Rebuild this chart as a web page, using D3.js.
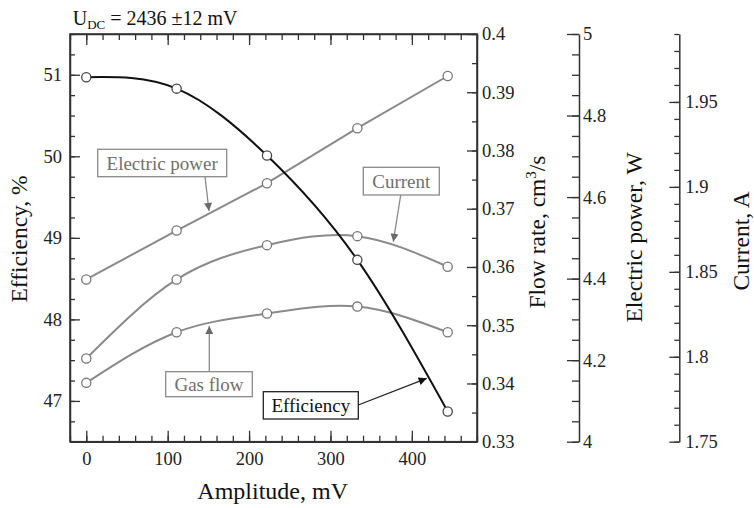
<!DOCTYPE html>
<html>
<head>
<meta charset="utf-8">
<script src="https://cdn.jsdelivr.net/npm/d3@7"></script>
<style>
  body { margin: 0; background: #fff; }
  svg text { font-family: "Liberation Serif", "Times New Roman", Times, "DejaVu Serif", serif !important; }
</style>
</head>
<body>
<svg id="chart" width="754" height="508"></svg>
<script>
// ---- data ----
const amplitude = [0, 111, 222, 333, 444];             // mV
const efficiency = [50.97, 50.83, 50.01, 48.73, 46.87]; // %
const flowRate = [0.3401, 0.3488, 0.3520, 0.3532, 0.3488]; // cm3/s
const electricPower = [4.398, 4.518, 4.634, 4.769, 4.897]; // W
const current = [1.799, 1.8455, 1.8657, 1.871, 1.853];     // A

const xTicks = [0, 100, 200, 300, 400];
const effTicks = [47, 48, 49, 50, 51];
const flowTicks = [0.33, 0.34, 0.35, 0.36, 0.37, 0.38, 0.39, 0.4];
const powerTicks = [4, 4.2, 4.4, 4.6, 4.8, 5];
const currentTicks = [1.75, 1.8, 1.85, 1.9, 1.95];

// ---- layout ----
const L = 70, R = 477, T = 34, B = 441.7;
const axP = 579, axC = 679.3;
const gray = "#8a8a8a", grayText = "#707070";
const tickFont = 18.5;

const svg = d3.select("#chart");

const x = d3.scaleLinear().domain([-20, 480]).range([L, R]);
const yE = d3.scaleLinear().domain([46.5, 51.5]).range([B, T]);
const yF = d3.scaleLinear().domain([0.33, 0.40]).range([B, T]);
const yP = d3.scaleLinear().domain([4, 5]).range([B, T]);
const yC = d3.scaleLinear().domain([1.75, 1.99]).range([B, T]);

function rangeStep(a, b, s) { const r = []; const n = Math.round((b - a) / s); for (let i = 0; i <= n; i++) r.push(+(a + i * s).toFixed(6)); return r; }

function styleAxis(g, color) {
  g.attr("font-family", null);
  g.selectAll("path.domain").attr("stroke", color || "#333").attr("stroke-width", 1.5);
  g.selectAll(".tick line").attr("stroke", color || "#333").attr("stroke-width", 1.3);
  g.selectAll(".tick text").attr("font-size", tickFont).attr("fill", "#222");
}

function addAxis(axisFn, scale, majors, minors, tx, ty, majorLen, minorLen, pad, fmt) {
  const gMin = svg.append("g").attr("transform", `translate(${tx},${ty})`)
    .call(axisFn(scale).tickValues(minors).tickSizeInner(minorLen).tickSizeOuter(0).tickFormat(""));
  styleAxis(gMin);
  gMin.select("path.domain").remove();
  const gMaj = svg.append("g").attr("transform", `translate(${tx},${ty})`)
    .call(axisFn(scale).tickValues(majors).tickSizeInner(majorLen).tickSizeOuter(0).tickPadding(pad)
      .tickFormat(fmt || (d => d)));
  styleAxis(gMaj);
  return gMaj;
}

addAxis(d3.axisBottom, x, xTicks, rangeStep(-20, 480, 20), 0, B, -11, -6, 10);
addAxis(d3.axisTop, x, xTicks, rangeStep(-20, 480, 20), 0, T, -11, -6, 10, () => "");
addAxis(d3.axisLeft, yE, effTicks, rangeStep(46.5, 51.5, 0.25), L, 0, -10, -5, 8);
addAxis(d3.axisRight, yF, flowTicks, rangeStep(0.33, 0.40, 0.005), R, 0, -10, -5, 5, d => d);
addAxis(d3.axisRight, yP, powerTicks, rangeStep(4, 5, 0.05), axP, 0, -12, -7, 4, d => d);
addAxis(d3.axisRight, yC, currentTicks, rangeStep(1.75, 1.99, 0.01), axC, 0, -10, -5, 6, d => d);

svg.append("rect").attr("x", L).attr("y", T).attr("width", R - L).attr("height", B - T)
  .attr("fill", "none").attr("stroke", "#333").attr("stroke-width", 1.6);

// ---- series ----
function drawSeries(vals, yScale, color, curve, width, markerStroke) {
  const pts = amplitude.map((a, i) => [a, vals[i]]);
  const line = d3.line().x(d => x(d[0])).y(d => yScale(d[1])).curve(curve);
  svg.append("path").datum(pts).attr("d", line).attr("fill", "none")
    .attr("stroke", color).attr("stroke-width", width);
  svg.append("g").selectAll("circle").data(pts).join("circle")
    .attr("cx", d => x(d[0])).attr("cy", d => yScale(d[1])).attr("r", 4.6)
    .attr("fill", "#fff").attr("stroke", markerStroke).attr("stroke-width", 1.3);
}

drawSeries(electricPower, yP, gray, d3.curveLinear, 2, "#777");
drawSeries(current, yC, gray, d3.curveNatural, 2, "#777");
drawSeries(flowRate, yF, gray, d3.curveNatural, 2, "#777");
drawSeries(efficiency, yE, "#111", d3.curveNatural, 2, "#444");

// ---- annotations ----
const defs = svg.append("defs");
function marker(id, color) {
  defs.append("marker").attr("id", id).attr("viewBox", "0 0 10 10").attr("refX", 10).attr("refY", 5)
    .attr("markerWidth", 11).attr("markerHeight", 8).attr("markerUnits", "userSpaceOnUse")
    .attr("orient", "auto")
    .append("path").attr("d", "M0,0 L10,5 L0,10 z").attr("fill", color);
}
marker("arrGray", "#6a6a6a");
marker("arrBlack", "#111");

function annotate(label, box, from, to, color, textColor, arrowId) {
  svg.append("rect").attr("x", box[0]).attr("y", box[1]).attr("width", box[2] - box[0]).attr("height", box[3] - box[1])
    .attr("fill", "#fff").attr("stroke", color).attr("stroke-width", 1.3);
  svg.append("text").attr("x", (box[0] + box[2]) / 2).attr("y", (box[1] + box[3]) / 2 + 6.5)
    .attr("text-anchor", "middle").attr("font-size", 19).attr("fill", textColor).text(label);
  svg.append("line").attr("x1", from[0]).attr("y1", from[1]).attr("x2", to[0]).attr("y2", to[1])
    .attr("stroke", color).attr("stroke-width", 1.3).attr("marker-end", `url(#${arrowId})`);
}

annotate("Electric power", [97.7, 149.3, 226.7, 176.7], [205, 176.7], [209, 211], "#8a8a8a", grayText, "arrGray");
annotate("Current", [363.3, 167.3, 439.3, 195], [400.7, 195], [393.3, 241.7], "#8a8a8a", grayText, "arrGray");
annotate("Gas flow", [165.7, 371.7, 252.3, 396.7], [209.3, 371.7], [209.3, 326], "#8a8a8a", grayText, "arrGray");
annotate("Efficiency", [263.3, 391.7, 358.3, 419], [358.3, 405], [426.7, 378.3], "#222", "#111", "arrBlack");

// ---- titles ----
const title = svg.append("text").attr("x", 72.7).attr("y", 25).attr("font-size", 20).attr("fill", "#111");
title.append("tspan").text("U");
title.append("tspan").attr("font-size", 13).attr("dy", 4).text("DC");
title.append("tspan").attr("dy", -4).text(" = 2436 ±12 mV");

svg.append("text").attr("x", 272.7).attr("y", 499).attr("text-anchor", "middle")
  .attr("font-size", 24).attr("fill", "#111").text("Amplitude, mV");

function yTitle(xp, yp, build) {
  const t = svg.append("text").attr("transform", `translate(${xp},${yp}) rotate(-90)`)
    .attr("text-anchor", "middle").attr("font-size", 23.5).attr("fill", "#111");
  build(t);
}
yTitle(27, 239, t => t.text("Efficiency, %"));
yTitle(545, 232, t => {
  t.append("tspan").text("Flow rate, cm");
  t.append("tspan").attr("font-size", 15).attr("dy", -9).text("3");
  t.append("tspan").attr("dy", 9).text("/s");
});
yTitle(641.5, 237.5, t => t.text("Electric power, W"));
yTitle(749, 241, t => t.text("Current, A"));
</script>
</body>
</html>
